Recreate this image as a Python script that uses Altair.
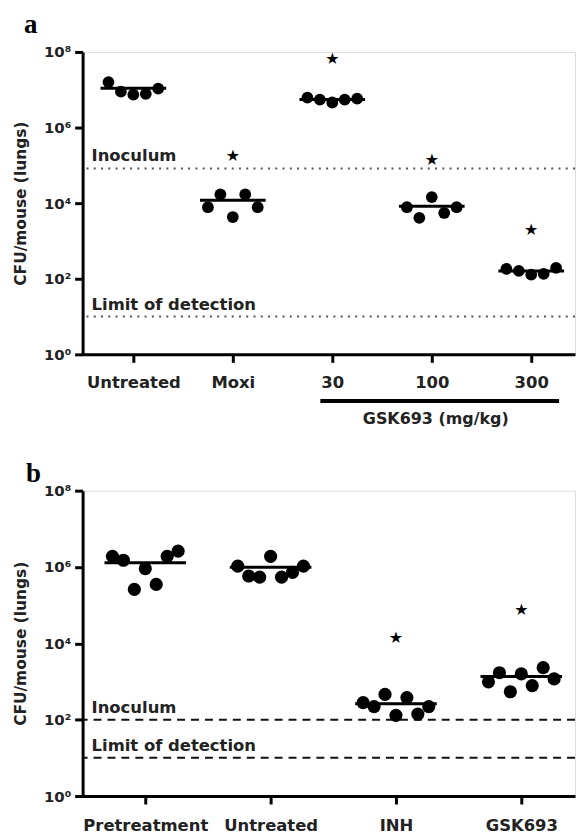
import json
import altair as alt
import pandas as pd

# ---------------- data ----------------
# Panel a
A_GROUPS = ["Untreated", "Moxi", "30", "100", "300"]
A_VALUES = [
    [1.6e7, 8.9e6, 7.4e6, 7.8e6, 1.07e7],
    [7.8e3, 1.7e4, 4.3e3, 1.7e4, 7.8e3],
    [6.2e6, 5.5e6, 4.6e6, 5.5e6, 5.8e6],
    [7.8e3, 4.1e3, 1.45e4, 5.5e3, 7.8e3],
    [182, 162, 129, 135, 195],
]
A_MEANS = [1.1e7, 1.2e4, 5.5e6, 8.3e3, 160]
A_STARS = [None, 1.8e5, 6.6e7, 1.35e5, 1.95e3]
A_INOCULUM = 8.3e4
A_LOD = 10
A_BRACKET_LABEL = "GSK693 (mg/kg)"
A_BRACKET_GROUPS = ["30", "300"]

# Panel b
B_GROUPS = ["Pretreatment", "Untreated", "INH", "GSK693"]
B_VALUES = [
    [1.9e6, 1.5e6, 2.6e5, 9.1e5, 3.5e5, 1.9e6, 2.6e6],
    [1.05e6, 5.8e5, 5.4e5, 1.9e6, 5.4e5, 7.2e5, 1.05e6],
    [280, 220, 460, 130, 380, 140, 220],
    [980, 1700, 540, 1580, 780, 2300, 1170],
]
B_MEANS = [1.3e6, 9.8e5, 260, 1350]
B_STARS = [None, None, 1.4e4, 7.4e4]
B_INOCULUM = 100
B_LOD = 10

LINE_LABELS = ["Inoculum", "Limit of detection"]
Y_TITLE = "CFU/mouse (lungs)"
PANEL_LETTERS = ["a", "b"]
Y_TICKS = [1, 1e2, 1e4, 1e6, 1e8]

FONT = "DejaVu Sans"
SUP = "['⁰','¹','²','³','⁴','⁵','⁶','⁷','⁸','⁹']"


def panel(groups, values, means, stars, inoc, lod, dash, dash_color,
          width, height, domain, spacing, half, psize, letter, letter_xy,
          label_dy, xlabel_pad, bracket=None):
    pts = []
    for gi, vals in enumerate(values):
        n = len(vals)
        for i, v in enumerate(vals):
            pts.append({"x": gi + 1 + (i - (n - 1) / 2) * spacing, "v": v})
    pts = pd.DataFrame(pts)
    mean_df = pd.DataFrame({"x": [g + 1 - half for g in range(len(means))],
                            "x2": [g + 1 + half for g in range(len(means))],
                            "v": means})
    star_df = pd.DataFrame([{"x": g + 1, "v": s, "t": "★"}
                            for g, s in enumerate(stars) if s is not None])
    line_df = pd.DataFrame({"v": [inoc, lod], "label": LINE_LABELS})

    xscale = alt.Scale(domain=domain, nice=False, zero=False)
    yscale = alt.Scale(type="log", domain=[1, 1e8], nice=False)
    labels = json.dumps(groups, ensure_ascii=False)
    xaxis = alt.Axis(values=list(range(1, len(groups) + 1)),
                     labelExpr=f"{labels}[datum.value-1]",
                     title=None, grid=False, tickSize=8, tickWidth=3,
                     domainWidth=3, domainColor="black", tickColor="black",
                     labelFont=FONT, labelFontWeight="bold", labelFontSize=16.5,
                     labelColor="#222", labelPadding=xlabel_pad, labelFlush=False)
    yaxis = alt.Axis(values=Y_TICKS,
                     labelExpr=f"'10' + {SUP}[round(log(datum.value)/LN10)]",
                     title=Y_TITLE, titleFont=FONT, titleFontSize=15.5,
                     titleFontWeight="bold", titleColor="#222",
                     titleBaseline="alphabetic", titleX=-57,
                     grid=False, tickSize=8, tickWidth=3, domainWidth=3,
                     domainColor="black", tickColor="black",
                     labelFont=FONT, labelFontWeight="bold", labelFontSize=15,
                     labelColor="#222", labelPadding=4)
    X = alt.X("x:Q", scale=xscale, axis=xaxis)
    Y = alt.Y("v:Q", scale=yscale, axis=yaxis)

    ref = alt.Chart(line_df).mark_rule(strokeDash=dash, strokeWidth=2,
                                       color=dash_color).encode(y=Y)
    ref_text = alt.Chart(line_df).mark_text(
        align="left", baseline="alphabetic", dy=-label_dy, font=FONT,
        fontWeight="bold", fontSize=16.5, color="#222"
    ).encode(x=alt.value(9), y="v:Q", text="label:N")
    dots = alt.Chart(pts).mark_point(shape="circle", filled=True, opacity=1,
                                     color="black", size=psize).encode(x=X, y="v:Q")
    mean_rule = alt.Chart(mean_df).mark_rule(strokeWidth=3, color="black").encode(
        x="x:Q", x2="x2:Q", y="v:Q")
    star = alt.Chart(star_df).mark_text(font=FONT, fontSize=16, color="black",
                                        baseline="middle").encode(
        x="x:Q", y="v:Q", text="t:N")
    let = alt.Chart(pd.DataFrame({"t": [letter]})).mark_text(
        font="Liberation Serif", fontWeight="bold", fontSize=27, align="left",
        baseline="alphabetic", color="black").encode(
        x=alt.value(letter_xy[0]), y=alt.value(letter_xy[1]), text="t:N")
    layers = [ref, ref_text, mean_rule, dots, star, let]
    if bracket is not None:
        g0 = groups.index(bracket[1][0]) + 1
        g1 = groups.index(bracket[1][1]) + 1
        br_df = pd.DataFrame({"x": [g0 - 0.12], "x2": [g1 + 0.28],
                              "xc": [(g0 - 0.12 + g1 + 0.28) / 2 - 0.04],
                              "t": [bracket[0]]})
        br = alt.Chart(br_df).mark_rule(strokeWidth=4, color="black").encode(
            x="x:Q", x2="x2:Q", y=alt.value(height + 47))
        br_t = alt.Chart(br_df).mark_text(font=FONT, fontWeight="bold",
                                          fontSize=16, color="#222",
                                          baseline="middle").encode(
            x="xc:Q", y=alt.value(height + 65), text="t:N")
        layers += [br, br_t]
    return alt.layer(*layers).properties(width=width, height=height)


pa = panel(A_GROUPS, A_VALUES, A_MEANS, A_STARS, A_INOCULUM, A_LOD,
           [2, 5.3], "#555", 495, 304, [0.49, 5.44], 0.125, 0.33, 140,
           PANEL_LETTERS[0], (-59, -19), 7, 12,
           bracket=(A_BRACKET_LABEL, A_BRACKET_GROUPS))
pb = panel(B_GROUPS, B_VALUES, B_MEANS, B_STARS, B_INOCULUM, B_LOD,
           [8, 6], "#111", 495, 307, [0.5, 0.5 + 495 / 126], 11 / 126,
           41 / 126, 175, PANEL_LETTERS[1], (-57, -9), 7, 14)

chart = alt.vconcat(pa, pb, spacing=31).properties(
    padding={"left": 5, "top": 0, "right": 0, "bottom": 0}
).configure_view(stroke=None).configure(background="white")

chart.save("out.html", embed_options={"renderer": "svg", "actions": False})
